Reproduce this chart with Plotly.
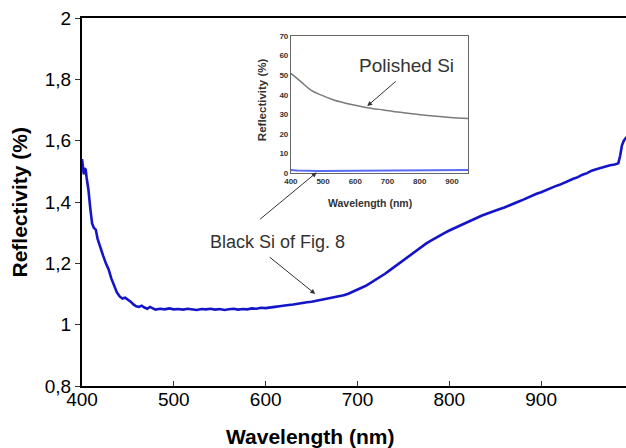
import plotly.graph_objects as go

# Black Si reflectivity spectrum (%)
wl_black = [400, 401, 402, 403, 404, 405, 407, 409, 411, 413, 415, 417, 420, 423, 426, 429,
            432, 435, 438, 441, 444, 447, 450, 453, 456, 459, 462, 465, 468, 471, 474, 477,
            480, 485, 490, 495, 500, 505, 510, 515, 520, 525, 530, 535, 540, 545, 550, 555,
            560, 565, 570, 575, 580, 585, 590, 595, 600, 605, 610, 615, 620, 625, 630, 635,
            640, 645, 650, 655, 660, 665, 670, 675, 680, 685, 690, 695, 700, 705, 710, 715,
            720, 725, 730, 735, 740, 745, 750, 755, 760, 765, 770, 775, 780, 785, 790, 795,
            800, 805, 810, 815, 820, 825, 830, 835, 840, 845, 850, 855, 860, 865, 870, 875,
            880, 885, 890, 895, 900, 905, 910, 915, 920, 925, 930, 935, 940, 945, 950, 955,
            960, 965, 970, 975, 980, 984, 986, 988, 990, 993]
r_black = [1.540, 1.500, 1.490, 1.510, 1.505, 1.480, 1.440, 1.380, 1.330, 1.315, 1.310, 1.280,
           1.250, 1.225, 1.200, 1.180, 1.150, 1.125, 1.105, 1.092, 1.085, 1.088, 1.082, 1.075,
           1.066, 1.060, 1.058, 1.062, 1.056, 1.052, 1.058, 1.054, 1.049, 1.052, 1.050, 1.053,
           1.050, 1.051, 1.049, 1.052, 1.050, 1.048, 1.051, 1.050, 1.052, 1.049, 1.051, 1.048,
           1.050, 1.052, 1.049, 1.051, 1.050, 1.053, 1.052, 1.055, 1.054, 1.057, 1.058, 1.060,
           1.061, 1.064, 1.066, 1.069, 1.071, 1.073, 1.075, 1.078, 1.080, 1.083, 1.085, 1.088,
           1.091, 1.096, 1.101, 1.107, 1.114, 1.121, 1.128, 1.137, 1.146, 1.156, 1.166, 1.177,
           1.188, 1.199, 1.211, 1.222, 1.234, 1.245, 1.255, 1.265, 1.274, 1.283, 1.291, 1.299,
           1.307, 1.314, 1.322, 1.329, 1.336, 1.343, 1.350, 1.355, 1.361, 1.367, 1.371, 1.377,
           1.382, 1.389, 1.394, 1.401, 1.407, 1.414, 1.419, 1.427, 1.432, 1.439, 1.444, 1.451,
           1.456, 1.463, 1.468, 1.476, 1.481, 1.489, 1.494, 1.502, 1.507, 1.512, 1.516, 1.520,
           1.522, 1.526, 1.550, 1.585, 1.600, 1.612]

# Polished Si reflectivity (%)
wl_polished = [400, 431, 462, 493, 533, 585, 637, 687, 740, 792, 843, 895, 950]
r_polished = [50.9, 46.7, 42.4, 39.9, 37.3, 35.1, 33.4, 32.2, 31.0, 30.0, 29.1, 28.4, 27.9]

x_ticks = [400, 500, 600, 700, 800, 900]
y_ticks = [0.8, 1.0, 1.2, 1.4, 1.6, 1.8, 2.0]
inset_y_ticks = [0, 10, 20, 30, 40, 50, 60, 70]

FONT = "Liberation Sans, Arial, sans-serif"
BLUE = "#1414c8"

fig = go.Figure()

fig.add_trace(go.Scatter(x=wl_black, y=r_black, mode="lines",
                         line=dict(color=BLUE, width=2.6), xaxis="x", yaxis="y",
                         showlegend=False))
fig.add_trace(go.Scatter(x=wl_polished, y=r_polished, mode="lines", line_shape="spline",
                         line=dict(color="#7a7a7a", width=1.5), xaxis="x2", yaxis="y2",
                         showlegend=False))
fig.add_trace(go.Scatter(x=wl_black, y=r_black, mode="lines",
                         line=dict(color="#5b6cf2", width=2), xaxis="x2", yaxis="y2",
                         showlegend=False))

fig.update_layout(
    width=626, height=448,
    margin=dict(l=82, r=0, t=18, b=62),
    paper_bgcolor="white", plot_bgcolor="white",
    separators=",.",
    font=dict(family=FONT, color="black"),
    xaxis=dict(range=[400, 992.4], tickvals=x_ticks, ticks="inside", ticklen=5,
               tickwidth=1, tickcolor="#333", showgrid=False, zeroline=False,
               showline=True, linecolor="black", linewidth=2, mirror=True,
               ticklabelstandoff=-5,
               tickfont=dict(size=19, family=FONT)),
    yaxis=dict(range=[0.8, 2.0], tickvals=y_ticks, ticks="outside", ticklen=5,
               tickwidth=1, tickcolor="#333", showgrid=False, zeroline=False,
               showline=True, linecolor="black", linewidth=2, mirror=False,
               tickfont=dict(size=19, family=FONT)),
    xaxis2=dict(domain=[0.384, 0.7096], anchor="y2", range=[400, 950], tickvals=x_ticks,
                ticks="", showgrid=False, zeroline=False, showline=True,
                linecolor="#666", linewidth=1, mirror=True,
                tickfont=dict(size=8, family=FONT, color="#333", weight="bold")),
    yaxis2=dict(domain=[0.5788, 0.951], anchor="x2", range=[0, 70], tickvals=inset_y_ticks,
                ticks="", showgrid=False, zeroline=False, showline=True,
                linecolor="#666", linewidth=1, mirror=True,
                tickfont=dict(size=8, family=FONT, color="#333", weight="bold")),
)

annotations = [
    # main axis titles
    dict(text="<b>Wavelength (nm)</b>", xref="paper", yref="paper", x=0.419, y=-0.136,
         xanchor="center", yanchor="middle", showarrow=False,
         font=dict(size=21, family=FONT, color="black")),
    dict(text="<b>Reflectivity (%)</b>", xref="paper", yref="paper", x=-0.1167, y=0.5,
         xanchor="center", yanchor="middle", textangle=-90, showarrow=False,
         font=dict(size=21, family=FONT, color="black")),
    # inset axis titles
    dict(text="<b>Wavelength (nm)</b>", xref="paper", yref="paper", x=0.529, y=0.497,
         xanchor="center", yanchor="middle", showarrow=False,
         font=dict(size=10.5, family=FONT, color="#333")),
    dict(text="<b>Reflectivity (%)</b>", xref="paper", yref="paper", x=0.331, y=0.777,
         xanchor="center", yanchor="middle", textangle=-90, showarrow=False,
         font=dict(size=11.5, family=FONT, color="#333")),
    # curve labels
    dict(text="Polished Si", xref="paper", yref="paper", x=0.5956, y=0.8696,
         xanchor="center", yanchor="middle", showarrow=False,
         font=dict(size=19, family=FONT, color="#333")),
    dict(text="Black Si of Fig. 8", xref="paper", yref="paper", x=0.3594, y=0.3913,
         xanchor="center", yanchor="middle", showarrow=False,
         font=dict(size=18, family=FONT, color="#333")),
    # arrows
    dict(text="", xref="x2", yref="y2", x=637, y=34.2, ax=30, ay=-26,
         showarrow=True, arrowhead=2, arrowsize=1, arrowwidth=1, arrowcolor="#333"),
    dict(text="", xref="x2", yref="y2", x=480, y=0.3, ax=-58, ay=48,
         showarrow=True, arrowhead=2, arrowsize=1, arrowwidth=1, arrowcolor="#333"),
    dict(text="", xref="x", yref="y", x=654, y=1.10, ax=-47, ay=-38,
         showarrow=True, arrowhead=2, arrowsize=1, arrowwidth=1, arrowcolor="#333"),
]
fig.update_layout(annotations=annotations)

fig.write_html("out.html")
